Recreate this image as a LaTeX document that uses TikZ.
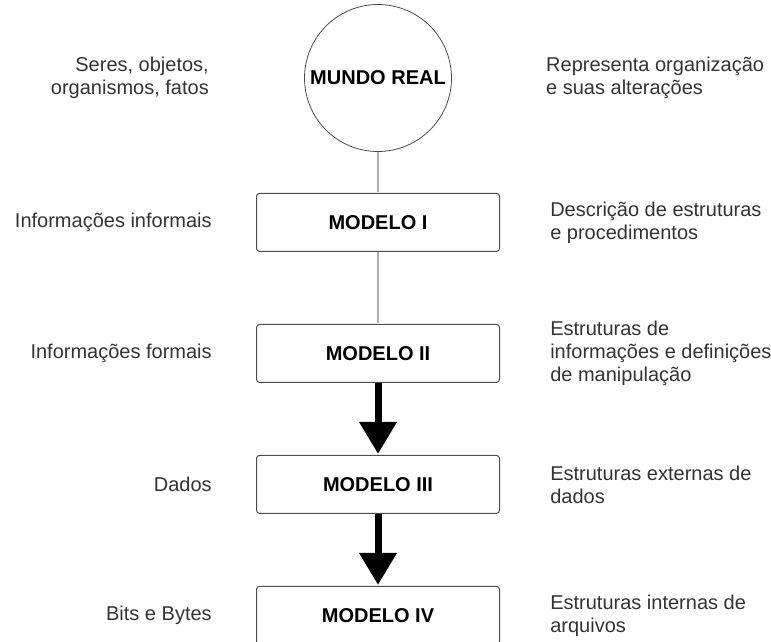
\documentclass[tikz,border=0pt]{standalone}
\usepackage{fontspec}
\setmainfont{Liberation Sans}
\usetikzlibrary{positioning}
\usetikzlibrary{arrows.meta}
\definecolor{linegray}{rgb}{0.68,0.68,0.68}
\definecolor{boxgray}{rgb}{0.3,0.3,0.3}
\definecolor{textgray}{rgb}{0.2,0.2,0.2}

\begin{document}
\begin{tikzpicture}[
            x = 1pt, y = -1pt, % one unit = one pixel
            > = {Triangle[width=36pt,length=32pt]}, % arrow head style
            shorten > = 1pt, % don't touch arrow head to node
            node distance = 72pt, % distance between boxes
            semithick % line style
        ]

        \tikzstyle{modelo}=[
            draw = boxgray,
            line width = 1pt,
            rounded corners = 3pt,
            fill = white,
            minimum width = 243pt,
            minimum height = 58pt,
            inner sep = 0pt,
            font = \fontsize{20}{23}\selectfont\bfseries
        ]
        \tikzstyle{mundo}=[
            circle,
            draw = boxgray,
            line width = 0.8pt,
            minimum size = 147pt,
            inner sep = 0pt,
            font = \fontsize{20}{23}\selectfont\bfseries
        ]
        \tikzstyle{esq}=[align = right, inner sep = 0pt, text = textgray, font = \fontsize{20}{23}\selectfont]
        \tikzstyle{dir}=[align = left, inner sep = 0pt, text = textgray, font = \fontsize{20}{23}\selectfont]
        \tikzstyle{liga}=[draw = linegray, line width = 1.3pt]
        \tikzstyle{seta}=[->, line width = 7pt]

        \useasboundingbox (0,0) rectangle (771,642);

% levels
        \node[mundo] (MR) at (378,78) {MUNDO REAL};
        \node[modelo] (M1) [below = 41pt of MR] {MODELO I};
        \node[modelo] (M2) [below = of M1] {MODELO II};
        \node[modelo] (M3) [below = of M2] {MODELO III};
        \node[modelo] (M4) [below = of M3] {MODELO IV};

        \path[liga] (MR) edge node {} (M1);
        \path[liga] (M1) edge node {} (M2);
        \path[seta] (M2) edge node {} (M3);
        \path[seta] (M3) edge node {} (M4);

        % left side
        \node[esq] (LR) [left = 95pt of MR] {Seres, objetos,\\organismos, fatos};
        \node[esq] (L1) [left = 44pt of M1] {Informações informais};
        \node[esq] (L2) [left = 44pt of M2] {Informações formais};
        \node[esq] (L3) [left = 44pt of M3] {Dados};
        \node[esq] (L4) [left = 44pt of M4] {Bits e Bytes};

        % right side
        \node[dir] (RR) [right = 94pt of MR] {Representa organização\\e suas alterações};
        \node[dir] (R1) [right = 50pt of M1] {Descrição de estruturas\\e procedimentos};
        \node[dir] (R2) [right = 50pt of M2] {Estruturas de\\informações e definições\\de manipulação};
        \node[dir] (R3) [right = 50pt of M3] {Estruturas externas de\\dados};
        \node[dir] (R4) [right = 50pt of M4] {Estruturas internas de\\arquivos};

  \end{tikzpicture}
\end{document}
